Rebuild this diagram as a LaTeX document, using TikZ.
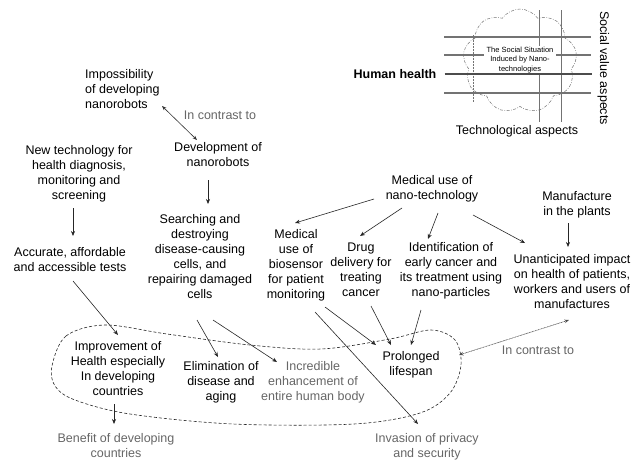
\documentclass[tikz,border=0pt]{standalone}
\usepackage{fontspec}
\setmainfont{Liberation Sans}
\usetikzlibrary{arrows.meta,calc,shapes.symbols}

\begin{document}
\begin{tikzpicture}[x=1pt,y=-1pt,
  lbl/.style={align=center, inner sep=0pt, font=\fontsize{12.5}{15}\selectfont,
    execute at begin node=\strut, execute at end node=\strut},
  soft/.style={lbl, text=black!60},
  arr/.style={-{Stealth[length=5pt,width=4pt]}, line width=0.6pt, black!85},
  twoway/.style={{Stealth[length=4.5pt,width=3.5pt]}-{Stealth[length=4.5pt,width=3.5pt]}, line width=0.6pt},
  blob/.style={dash pattern=on 3pt off 2pt, line width=0.6pt, black!85},
  axis/.style={line width=1.4pt, black!55, dash pattern=on 0.5pt off 0.5pt},
  tech/.style={line width=0.8pt, black!55},
  puff/.style={draw=black!55, line width=0.5pt, dash pattern=on 3pt off 1.5pt on 0.7pt off 1.5pt}]

\useasboundingbox (0,0) rectangle (642,464);

% ---- inset: value / technology grid around the cloud ----
\node[cloud, cloud puffs=9, cloud puff arc=110, aspect=1.15, puff,
      minimum width=114pt, minimum height=104pt] (cloud) at (520,61) {};
\draw[tech] (539,10) -- (539,122);
\draw[tech] (561,10) -- (561,122);
\draw[axis] (444,37) -- (591,37);
\draw[axis] (444,55) -- (591,55);
\draw[axis] (444,93) -- (591,93);
\draw[black!55, line width=0.5pt, densely dotted] (473,35) -- (473,102);
\node[fill=white, align=center, inner xsep=2.5pt, inner ysep=1pt,
      font=\fontsize{7.5}{9.5}\selectfont] (situation) at (520,60)
  {The Social Situation\\Induced by Nano-\\technologies};
\node[font=\fontsize{12.5}{15}\selectfont\bfseries, inner sep=0pt] (health) at (395,74) {Human health};
\draw[axis, line width=2.4pt, black!70] (health.east) ++(8,0) -- (591,74);
\node[lbl] (techasp) at (517,131) {Technological aspects};
\node[lbl, rotate=-90] (social) at (603,68) {Social value aspects};

% ---- nodes ----
\node[lbl, align=left, anchor=west] (imp) at (85,91) {Impossibility\\of developing\\nanorobots};
\node[soft] (contrastA) at (220,116) {In contrast to};
\node[lbl] (dev) at (218,157) {Development of\\nanorobots};
\node[lbl] (newtech) at (79,175) {New technology for\\health diagnosis,\\monitoring and\\screening};
\node[lbl] (search) at (200,259) {Searching and\\destroying\\disease-causing\\cells, and\\repairing damaged\\cells};
\node[lbl] (acc) at (70,262) {Accurate, affordable\\and accessible tests};
\node[lbl] (mednano) at (432,190) {Medical use of\\nano-technology};
\node[lbl] (manuf) at (577,206) {Manufacture\\in the plants};
\node[lbl] (medbio) at (296,266) {Medical\\use of\\biosensor\\for patient\\monitoring};
\node[lbl] (drug) at (361,272) {Drug\\delivery for\\treating\\cancer};
\node[lbl] (ident) at (451,272) {Identification of\\early cancer and\\its treatment using\\nano-particles};
\node[lbl] (unant) at (572,284) {Unanticipated impact\\on health of patients,\\workers and users of\\manufactures};
\node[lbl] (impr) at (118,371) {Improvement of\\Health especially\\In developing\\countries};
\node[lbl] (elim) at (221,383) {Elimination of\\disease and\\aging};
\node[soft] (incr) at (313,383) {Incredible\\enhancement of\\entire human body};
\node[lbl] (prol) at (411,366) {Prolonged\\lifespan};
\node[soft] (benefit) at (116,448) {Benefit of developing\\countries};
\node[soft] (invasion) at (427,448) {Invasion of privacy\\and security};
\node[soft] (contrastB) at (538,351) {In contrast to};

% ---- dashed outline grouping the outcomes ----
\draw[blob] plot[smooth cycle, tension=0.55] coordinates {
  (52,366) (66,336) (105,325) (167,334) (250,345) (321,349) (390,339)
  (431,330) (455,340) (461,365) (450,393) (420,413) (354,424) (233,424)
  (130,414) (75,400) (55,386)};
\coordinate (blobR) at (459,355);

% ---- connectors ----
\draw[twoway, black!80] ($(imp.west)+(77,15)$) -- ($(dev)+(-21,-17)$);
\draw[arr] ($(dev)+(-10,23)$) -- ($(search)+(8,-55)$);
\draw[arr] ($(newtech)+(-6,33)$) -- ($(acc)+(3,-26)$);
\draw[arr] ($(acc)+(3,19)$) -- ($(impr)+(0,-36)$);
\draw[arr] ($(impr)+(-4,33)$) -- ($(benefit)+(-2,-24)$);
\draw[arr] ($(search)+(-3,61)$) -- ($(elim)+(-3,-26)$);
\draw[arr] ($(search)+(13,61)$) -- ($(incr)+(-36,-21)$);
\draw[arr] ($(mednano)+(-58,9)$) -- ($(medbio)+(-1,-43)$);
\draw[arr] ($(mednano)+(-30,18)$) -- ($(drug)+(-1,-36)$);
\draw[arr] ($(mednano)+(6,23)$) -- ($(ident)+(-23,-33)$);
\draw[arr] ($(mednano)+(41,25)$) -- ($(unant)+(-47,-41)$);
\draw[arr] ($(manuf)+(-9,17)$) -- ($(unant)+(-4,-37)$);
\draw[arr] ($(medbio)+(29,41)$) -- ($(prol)+(-35,-21)$);
\draw[arr] ($(medbio)+(19,46)$) -- ($(invasion)+(-9,-24)$);
\draw[arr] ($(drug)+(10,34)$) -- ($(prol)+(-20,-21)$);
\draw[arr] ($(ident)+(-30,38)$) -- ($(prol)+(0,-21)$);
\draw[twoway, black!70, dash pattern=on 1pt off 0.6pt] ($(unant)+(-3,36)$) -- (blobR);

\end{tikzpicture}
\end{document}
